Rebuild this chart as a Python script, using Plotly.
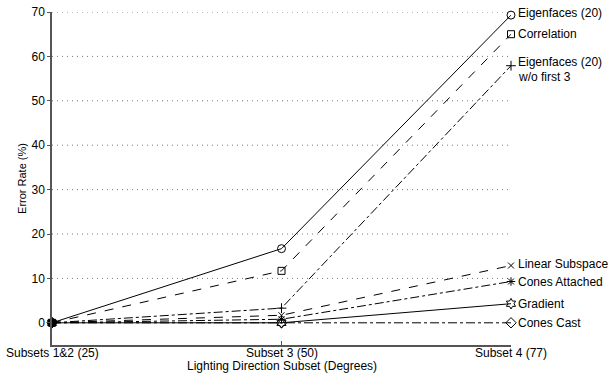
import plotly.graph_objects as go

subsets = ["Subsets 1&2 (25)", "Subset 3 (50)", "Subset 4 (77)"]
x_pos = [0, 1, 2]

eigenfaces = [0.0, 16.7, 69.3]
correlation = [0.0, 11.7, 65.0]
eigen_wo3 = [0.0, 3.3, 57.9]
linear_subspace = [0.0, 1.7, 12.9]
cones_attached = [0.0, 0.8, 9.3]
gradient = [0.0, 0.0, 4.3]
cones_cast = [0.0, 0.0, 0.0]

y_min, y_max = -5, 70
y_ticks = [0, 10, 20, 30, 40, 50, 60, 70]

series = [
    ("Eigenfaces (20)", eigenfaces, "solid", "circle-open", 8),
    ("Correlation", correlation, "dash", "square-open", 7),
    ("Eigenfaces (20) w/o first 3", eigen_wo3, "dashdot", "cross-thin-open", 7),
    ("Linear Subspace", linear_subspace, "dash", "x-thin-open", 6),
    ("Cones Attached", cones_attached, "dashdot", "asterisk-open", 7),
    ("Gradient", gradient, "solid", "hexagram-open", 8),
    ("Cones Cast", cones_cast, "dashdot", "diamond-open", 8),
]

label_lines = {
    "Eigenfaces (20)": (["Eigenfaces (20)"], 1),
    "Correlation": (["Correlation"], 0),
    "Eigenfaces (20) w/o first 3": (["Eigenfaces (20)", "w/o first 3"], 2),
    "Linear Subspace": (["Linear Subspace"], 1),
    "Cones Attached": (["Cones Attached"], 0),
    "Gradient": (["Gradient"], 0),
    "Cones Cast": (["Cones Cast"], 0),
}

FONT = "Liberation Sans, Arial, Helvetica, sans-serif"

fig = go.Figure()
for name, vals, dash, sym, size in series:
    fig.add_trace(go.Scatter(
        x=x_pos, y=vals, mode="lines+markers", name=name,
        line=dict(color="black", width=1, dash=dash),
        marker=dict(symbol=sym, size=size, color="black", line=dict(color="black", width=1)),
        showlegend=False, cliponaxis=False,
    ))

# common starting point
fig.add_trace(go.Scatter(
    x=[x_pos[0]], y=[eigenfaces[0]], mode="markers",
    marker=dict(symbol="circle", size=9, color="black"), showlegend=False, cliponaxis=False,
))

annotations = []
for name, vals, dash, sym, size in series:
    lines, shift_up = label_lines[name]
    for i, t in enumerate(lines):
        annotations.append(dict(
            x=x_pos[-1], y=vals[-1], xref="x", yref="y", text=t, showarrow=False,
            xanchor="left", yanchor="middle", xshift=5,
            yshift=(2 * shift_up if i == 0 else 2 * shift_up - 15),
            font=dict(size=12, color="black", family=FONT),
        ))

# x tick labels and x title as annotations (placed via axis coordinates)
for xp, lab in zip(x_pos, subsets):
    annotations.append(dict(
        x=xp, y=y_min, xref="x", yref="y", text=lab, showarrow=False,
        xanchor="center", yanchor="middle", yshift=-8,
        font=dict(size=12, color="black", family=FONT),
    ))
annotations.append(dict(
    x=0.5, y=y_min, xref="paper", yref="y", text="Lighting Direction Subset (Degrees)",
    showarrow=False, xanchor="center", yanchor="middle", yshift=-21,
    font=dict(size=12, color="black", family=FONT),
))

fig.update_layout(
    width=613, height=373,
    margin=dict(l=52, r=102, t=12, b=28),
    paper_bgcolor="white", plot_bgcolor="white",
    font=dict(family=FONT, size=12, color="black"),
    annotations=annotations,
)
fig.update_xaxes(
    range=[0, 2], tickvals=x_pos, showticklabels=False, automargin=False,
    showgrid=False, zeroline=False, showline=True, linecolor="#555", linewidth=1.5,
    ticks="inside", ticklen=4, tickcolor="#555",
)
fig.update_yaxes(
    range=[y_min, y_max], tickvals=y_ticks, automargin=False,
    showgrid=False, zeroline=False, showline=True, linecolor="#555", linewidth=1.5,
    ticks="outside", ticklen=3, tickcolor="#555", tickfont=dict(size=12),
    title=dict(text="Error Rate (%)", standoff=3, font=dict(size=11)),
)
# dotted horizontal gridlines (excluding 0)
for v in y_ticks[1:]:
    fig.add_shape(type="line", xref="paper", x0=0, x1=1, yref="y", y0=v, y1=v,
                  line=dict(color="#777", width=1, dash="1px,4px"), layer="below")

fig.write_html(
    "out.html",
    config={"displayModeBar": False},
    post_script="document.body.style.margin='0';document.body.style.overflow='hidden';",
)
